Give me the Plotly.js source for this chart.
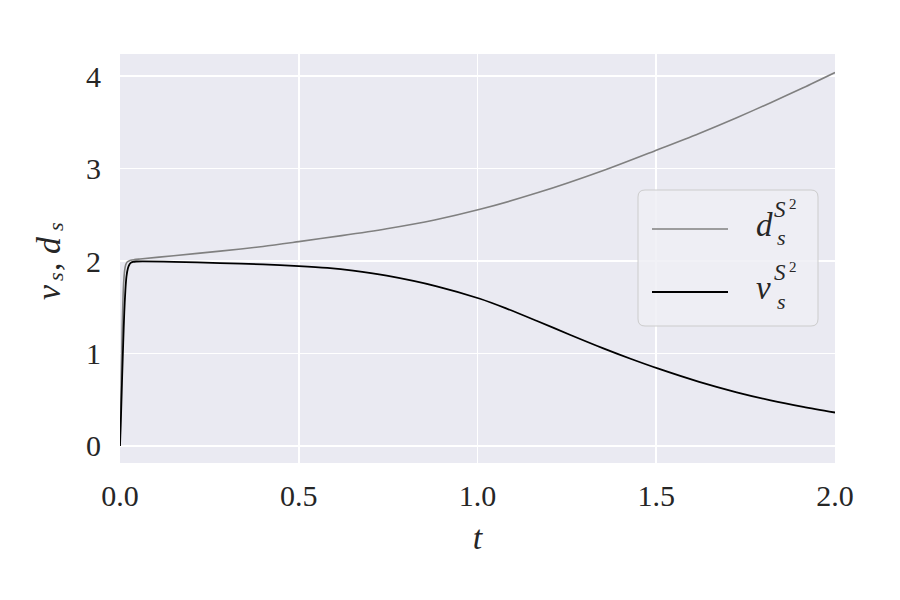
<!DOCTYPE html>
<html>
<head>
<meta charset="utf-8">
<script src="https://cdn.plot.ly/plotly-3.0.1.min.js"></script>
<style>html,body{margin:0;padding:0;background:#fff;}#chart{width:900px;height:600px;}</style>
</head>
<body>
<div id="chart"></div>
<script>
// Data
const tD = [0, 0.002, 0.004, 0.006, 0.008, 0.010, 0.013, 0.016, 0.02, 0.025, 0.03, 0.04, 0.056, 0.15, 0.28, 0.4, 0.5, 0.62, 0.746, 0.88, 1.007, 1.165, 1.352, 1.504, 1.62, 1.725, 1.82, 1.911, 2.0];
const dS = [0, 0.4, 0.85, 1.25, 1.55, 1.75, 1.9, 1.96, 1.99, 2.0, 2.008, 2.015, 2.022, 2.058, 2.107, 2.158, 2.21, 2.275, 2.35, 2.445, 2.56, 2.735, 2.98, 3.205, 3.381, 3.551, 3.713, 3.875, 4.04];
const tV = [0, 0.003, 0.006, 0.009, 0.012, 0.015, 0.018, 0.022, 0.026, 0.03, 0.036, 0.045, 0.15, 0.28, 0.4, 0.5, 0.58, 0.652, 0.746, 0.886, 1.007, 1.08, 1.165, 1.26, 1.352, 1.43, 1.504, 1.62, 1.725, 1.82, 1.911, 2.0];
const vS = [0, 0.35, 0.75, 1.12, 1.45, 1.68, 1.83, 1.92, 1.96, 1.98, 1.99, 1.995, 1.992, 1.978, 1.963, 1.946, 1.926, 1.897, 1.842, 1.727, 1.592, 1.488, 1.354, 1.200, 1.055, 0.940, 0.838, 0.693, 0.580, 0.493, 0.422, 0.361];
const xTicks = [0, 0.5, 1.0, 1.5, 2.0];
const xTickText = ["0.0", "0.5", "1.0", "1.5", "2.0"];
const yTicks = [0, 1, 2, 3, 4];
const yTickText = ["0", "1", "2", "3", "4"];

const FONT = "Liberation Serif, DejaVu Serif, serif";
const TXT = "#262626";

const traces = [
  {x: tD, y: dS, mode: "lines", line: {color: "#808080", width: 1.6, shape: "spline", smoothing: 0.8}, showlegend: false, hoverinfo: "skip"},
  {x: tV, y: vS, mode: "lines", line: {color: "#000000", width: 1.8, shape: "spline", smoothing: 0.8}, showlegend: false, hoverinfo: "skip"}
];

// plot area in pixels, used to place the hand-made legend and y title in paper coords
const L = 120, R = 835, T = 54, B = 463;
const px = x => (x - L) / (R - L);
const py = y => (B - y) / (B - T);

function roundRect(x0, y0, x1, y1, r) {
  const X = v => px(v), Y = v => py(v);
  return `M ${X(x0 + r)} ${Y(y0)} L ${X(x1 - r)} ${Y(y0)} Q ${X(x1)} ${Y(y0)} ${X(x1)} ${Y(y0 + r)} ` +
         `L ${X(x1)} ${Y(y1 - r)} Q ${X(x1)} ${Y(y1)} ${X(x1 - r)} ${Y(y1)} ` +
         `L ${X(x0 + r)} ${Y(y1)} Q ${X(x0)} ${Y(y1)} ${X(x0)} ${Y(y1 - r)} ` +
         `L ${X(x0)} ${Y(y0 + r)} Q ${X(x0)} ${Y(y0)} ${X(x0 + r)} ${Y(y0)} Z`;
}

const shapes = [
  {type: "path", xref: "paper", yref: "paper", path: roundRect(638, 190, 818, 326, 7),
   fillcolor: "rgba(238,238,245,0.85)", line: {color: "#cccccc", width: 1}},
  {type: "line", xref: "paper", yref: "paper", x0: px(652), x1: px(728), y0: py(229), y1: py(229),
   line: {color: "#808080", width: 1.6}},
  {type: "line", xref: "paper", yref: "paper", x0: px(652), x1: px(728), y0: py(292), y1: py(292),
   line: {color: "#000000", width: 1.8}}
];

function ann(text, x, y, size, opts) {
  return Object.assign({xref: "paper", yref: "paper", x: px(x), y: py(y), text: text, showarrow: false,
          xanchor: "left", yanchor: "middle", borderpad: 0,
          font: {family: FONT, size: size, color: TXT}}, opts || {});
}
const rot = {textangle: -90, xanchor: "center", yanchor: "middle"};

const annotations = [
  // legend labels
  ann("<i>d</i>", 755, 225, 33),
  ann("<i>S</i>", 773, 209, 23),
  ann("2", 788, 204, 15),
  ann("<i>s</i>", 776, 238, 22),
  ann("<i>v</i>", 755, 288, 33),
  ann("<i>S</i>", 773, 272, 23),
  ann("2", 788, 267, 15),
  ann("<i>s</i>", 776, 301, 22),
  // y axis title v_s, d_s (rotated)
  ann("<i>v</i>", 48, 292, 34, rot),
  ann("<i>s</i>", 55, 277, 22, rot),
  ann(",", 48, 267, 34, rot),
  ann("<i>d</i>", 48, 245, 34, rot),
  ann("<i>s</i>", 55, 227, 22, rot)
];

const layout = {
  width: 900, height: 600,
  margin: {l: L, r: 900 - R, t: T, b: 600 - B},
  paper_bgcolor: "#ffffff",
  plot_bgcolor: "#eaeaf2",
  font: {family: FONT, color: TXT, size: 30},
  xaxis: {
    range: [0, 2], tickvals: xTicks, ticktext: xTickText,
    showgrid: true, gridcolor: "#ffffff", gridwidth: 1.6, zeroline: false, showline: false,
    ticks: "", ticklabelstandoff: 12, tickfont: {family: FONT, size: 30, color: TXT},
    title: {text: "<i>t</i>", font: {family: FONT, size: 34, color: TXT}, standoff: 14}
  },
  yaxis: {
    range: [-0.185, 4.24], tickvals: yTicks, ticktext: yTickText,
    showgrid: true, gridcolor: "#ffffff", gridwidth: 1.6, zeroline: false, showline: false,
    ticks: "", ticklabelstandoff: 18, tickfont: {family: FONT, size: 30, color: TXT}
  },
  shapes: shapes,
  annotations: annotations,
  showlegend: false
};

Plotly.newPlot("chart", traces, layout, {displayModeBar: false, staticPlot: true});
</script>
</body>
</html>
